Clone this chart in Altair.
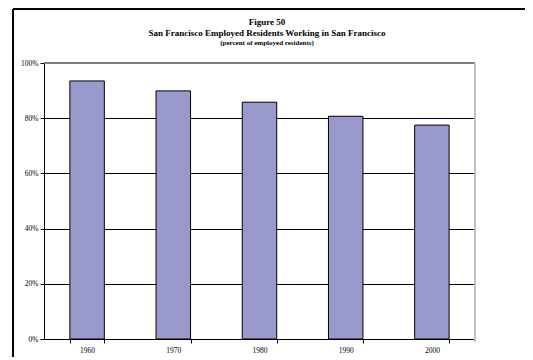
import altair as alt
import pandas as pd

years = ["1960", "1970", "1980", "1990", "2000"]
shares = [0.935, 0.899, 0.858, 0.807, 0.775]

title_lines = ["Figure 50",
               "San Francisco Employed Residents Working in San Francisco",
               "(percent of employed residents)"]

df = pd.DataFrame({"year": years, "share": shares})
FONT = "Liberation Serif"

W, H = 431, 276

bars = alt.Chart(df).mark_bar(
    color="#9999CC", stroke="#000000", strokeWidth=1
).encode(
    x=alt.X("year:N", title=None, sort=years,
            scale=alt.Scale(paddingInner=0.6, paddingOuter=0.3),
            axis=alt.Axis(labelAngle=0, tickBand="extent", tickSize=4,
                          tickColor="#000000", domainColor="#000000",
                          labelFont=FONT, labelFontSize=7.5, labelColor="#000000",
                          labelPadding=3, grid=False)),
    y=alt.Y("share:Q", title=None,
            scale=alt.Scale(domain=[0, 1], nice=False),
            axis=alt.Axis(format="%", values=[0, 0.2, 0.4, 0.6, 0.8, 1.0],
                          tickSize=4, tickColor="#000000", domainColor="#000000",
                          labelFont=FONT, labelFontSize=7.5, labelColor="#000000",
                          labelPadding=2, grid=True, gridColor="#000000",
                          gridOpacity=1, gridWidth=1)),
)

top_border = alt.Chart(df).mark_rule(color="#808080", strokeWidth=1).encode(
    x=alt.value(0), x2=alt.value(W), y=alt.value(0))
right_border = alt.Chart(df).mark_rule(color="#C0C0C0", strokeWidth=2).encode(
    x=alt.value(W), y=alt.value(0), y2=alt.value(H + 3))

frame_top = alt.Chart(df).mark_rule(color="#000000", strokeWidth=1.5).encode(
    x=alt.value(-31), x2=alt.value(W + 200), y=alt.value(-54))
frame_left = alt.Chart(df).mark_rule(color="#000000", strokeWidth=1.5).encode(
    x=alt.value(-31), y=alt.value(-54), y2=alt.value(H + 200))

t_df = pd.DataFrame({"t": title_lines, "i": [0, 1, 2]})
t1 = alt.Chart(t_df.iloc[[0]]).mark_text(font=FONT, fontSize=9, fontWeight="bold",
                                         color="#000000", align="center", baseline="middle").encode(
    text="t:N", x=alt.value(223), y=alt.value(-41))
t2 = alt.Chart(t_df.iloc[[1]]).mark_text(font=FONT, fontSize=9, fontWeight="bold",
                                         color="#000000", align="center", baseline="middle").encode(
    text="t:N", x=alt.value(223), y=alt.value(-30))
t3 = alt.Chart(t_df.iloc[[2]]).mark_text(font=FONT, fontSize=7, fontWeight="bold",
                                         color="#000000", align="center", baseline="middle").encode(
    text="t:N", x=alt.value(223), y=alt.value(-20))

chart = alt.layer(bars, top_border, right_border, frame_top, frame_left, t1, t2, t3).properties(
    width=W, height=H,
    autosize=alt.AutoSizeParams(type="none"),
    padding={"left": 36, "top": 55, "right": 50, "bottom": 18},
    background="#FFFFFF",
).configure_view(stroke=None)

chart.save("out.html", embed_options={"renderer": "svg", "actions": False})
